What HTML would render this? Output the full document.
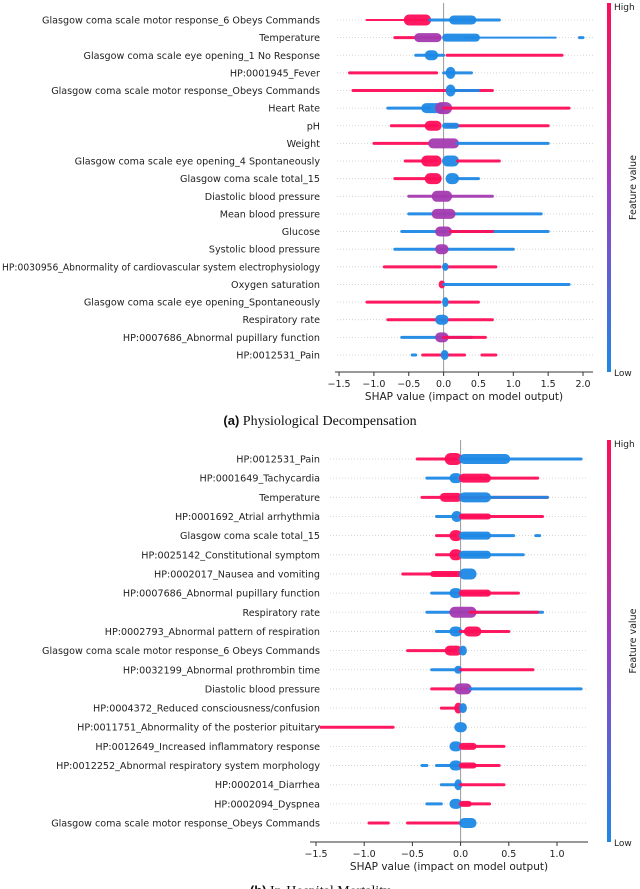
<!DOCTYPE html>
<html><head><meta charset="utf-8">
<style>
body{margin:0;background:#fff;}
svg{display:block;font-family:"DejaVu Sans","Liberation Sans",sans-serif;}
</style></head>
<body>
<svg id="c" width="640" height="889"></svg>
<script>
// ---- Data: chart A (Physiological Decompensation) ----
const featuresA = ["Glasgow coma scale motor response_6 Obeys Commands","Temperature","Glasgow coma scale eye opening_1 No Response","HP:0001945_Fever","Glasgow coma scale motor response_Obeys Commands","Heart Rate","pH","Weight","Glasgow coma scale eye opening_4 Spontaneously","Glasgow coma scale total_15","Diastolic blood pressure","Mean blood pressure","Glucose","Systolic blood pressure","HP:0030956_Abnormality of cardiovascular system electrophysiology","Oxygen saturation","Glasgow coma scale eye opening_Spontaneously","Respiratory rate","HP:0007686_Abnormal pupillary function","HP:0012531_Pain"];
// segments per feature: [shapStart, shapEnd, density, colorCode]
const shapA = [
 [[-1.1,-0.2,2,"r"],[-0.55,-0.2,11,"r"],[-0.2,0.8,3,"b"],[0.1,0.45,9,"b"]],
 [[-0.7,-0.05,3,"r"],[-0.4,-0.05,9,"p"],[0,0.5,8,"b"],[0.3,1.6,2,"b"],[1.95,2.0,3,"b"]],
 [[-0.4,0,3,"b"],[-0.25,-0.1,10,"b"],[0.05,1.7,3,"r"]],
 [[-1.35,-0.1,3,"r"],[0,0.4,3,"b"],[0.05,0.15,12,"b"]],
 [[-1.3,0.7,3,"r"],[0.1,0.5,3,"b"],[0.05,0.15,12,"b"]],
 [[-0.8,-0.2,3,"b"],[-0.3,0,10,"b"],[-0.1,0.1,12,"p"],[0,1.8,3,"r"]],
 [[-0.75,-0.1,3,"r"],[-0.25,-0.05,10,"r"],[0.05,1.5,3,"r"],[0,0.2,6,"b"]],
 [[-1.0,-0.2,3,"r"],[-0.2,0.2,10,"p"],[0.2,1.5,3,"b"]],
 [[-0.55,-0.1,3,"r"],[-0.3,-0.05,11,"r"],[0,0.2,11,"b"],[0.2,0.8,3,"r"]],
 [[-0.7,-0.05,3,"r"],[-0.25,-0.05,11,"r"],[0.05,0.2,11,"b"],[0.2,0.5,3,"b"]],
 [[-0.5,0.7,3,"p"],[-0.15,0.1,11,"p"]],
 [[-0.5,1.4,3,"b"],[-0.15,0.15,10,"p"]],
 [[-0.6,1.5,3,"b"],[-0.1,0.1,10,"p"],[0.1,0.7,3,"r"]],
 [[-0.7,1.0,3,"b"],[-0.1,0.05,10,"p"]],
 [[-0.85,-0.05,3,"r"],[0,0.75,3,"r"],[0,0.05,8,"b"]],
 [[-0.05,0,8,"r"],[0,1.8,3,"b"]],
 [[-1.1,-0.05,3,"r"],[0.05,0.5,3,"r"],[0,0.05,10,"b"]],
 [[-0.8,0.7,3,"r"],[-0.1,0.05,10,"b"]],
 [[-0.6,0.4,3,"b"],[-0.1,0.05,10,"p"],[0,0.6,3,"r"]],
 [[-0.45,-0.4,3,"b"],[-0.3,0.3,3,"r"],[-0.02,0.05,10,"b"],[0.55,0.75,3,"r"]]
];
const ticksA = [-1.5,-1.0,-0.5,0.0,0.5,1.0,1.5,2.0];
// ---- Data: chart B (In-Hospital Mortality) ----
const featuresB = ["HP:0012531_Pain","HP:0001649_Tachycardia","Temperature","HP:0001692_Atrial arrhythmia","Glasgow coma scale total_15","HP:0025142_Constitutional symptom","HP:0002017_Nausea and vomiting","HP:0007686_Abnormal pupillary function","Respiratory rate","HP:0002793_Abnormal pattern of respiration","Glasgow coma scale motor response_6 Obeys Commands","HP:0032199_Abnormal prothrombin time","Diastolic blood pressure","HP:0004372_Reduced consciousness/confusion","HP:0011751_Abnormality of the posterior pituitary","HP:0012649_Increased inflammatory response","HP:0012252_Abnormal respiratory system morphology","HP:0002014_Diarrhea","HP:0002094_Dyspnea","Glasgow coma scale motor response_Obeys Commands"];
const shapB = [
 [[-0.45,-0.05,3,"r"],[-0.15,0,12,"r"],[0,1.25,3,"b"],[0,0.5,10,"b"]],
 [[-0.35,-0.05,3,"b"],[-0.1,0,10,"b"],[0,0.8,3,"r"],[0,0.3,9,"r"]],
 [[-0.4,0.9,3,"r"],[-0.2,0,9,"r"],[0,0.3,10,"b"],[0.3,0.9,3,"b"]],
 [[-0.25,-0.05,3,"b"],[-0.08,0,11,"b"],[0,0.85,3,"r"],[0,0.3,6,"r"]],
 [[-0.25,-0.05,3,"r"],[-0.1,0,11,"r"],[0,0.55,3,"b"],[0,0.3,8,"b"],[0.78,0.82,3,"b"]],
 [[-0.25,0,3,"r"],[-0.1,0,11,"r"],[0,0.65,3,"b"],[0,0.3,8,"b"]],
 [[-0.6,-0.05,3,"r"],[-0.3,0,6,"r"],[0,0.15,11,"b"]],
 [[-0.3,0,3,"b"],[-0.1,0,10,"b"],[0,0.6,3,"r"],[0,0.3,7,"r"]],
 [[-0.35,0.85,3,"b"],[-0.1,0.15,11,"p"],[0.1,0.8,3,"r"]],
 [[-0.25,0,3,"b"],[-0.1,0,10,"b"],[0,0.5,3,"r"],[0.05,0.2,10,"r"]],
 [[-0.55,-0.05,3,"r"],[-0.15,0,10,"r"],[0,0.05,10,"b"]],
 [[-0.3,0,3,"b"],[-0.05,0,8,"b"],[0,0.75,3,"r"]],
 [[-0.3,0.1,3,"r"],[-0.05,0.1,11,"p"],[0.1,1.25,3,"b"]],
 [[-0.2,0,3,"r"],[-0.05,0,11,"r"],[0,0.05,10,"b"]],
 [[-1.45,-0.7,3,"r"],[-0.05,0.05,10,"b"]],
 [[-0.1,0,10,"b"],[0,0.45,3,"r"],[0,0.15,7,"r"]],
 [[-0.4,-0.35,3,"b"],[-0.25,0,3,"b"],[-0.1,0,10,"b"],[0,0.4,3,"r"],[0,0.15,6,"r"]],
 [[-0.2,0,3,"b"],[-0.05,0,11,"b"],[0,0.45,3,"r"]],
 [[-0.35,-0.2,3,"b"],[-0.1,0,10,"b"],[0,0.3,3,"r"],[0,0.1,6,"r"]],
 [[-0.95,-0.75,3,"r"],[-0.55,0,3,"r"],[0,0.15,10,"b"]]
];
const ticksB = [-1.5,-1.0,-0.5,0.0,0.5,1.0];

const NS="http://www.w3.org/2000/svg";
const svg=document.getElementById('c');
const COL={r:"#ff0d57",b:"#1e88e5",p:"#a43ab0"};
function mk(tag,attrs,parent,text){const e=document.createElementNS(NS,tag);for(const k in attrs)e.setAttribute(k,attrs[k]);if(text!==undefined)e.textContent=text;(parent||svg).appendChild(e);return e;}
function fmt(v){return (v<0?"\u2212":"")+Math.abs(v).toFixed(1);}

const defs=mk('defs',{});
const lg=mk('linearGradient',{id:"grad",x1:0,y1:0,x2:0,y2:1},defs);
mk('stop',{offset:"0","stop-color":"#ff0d57"},lg);
mk('stop',{offset:"0.5","stop-color":"#9a3dc0"},lg);
mk('stop',{offset:"1","stop-color":"#1e88e5"},lg);

function chart(cfg){
  const g=mk('g',{});
  
  
  const xs=v=>cfg.x0+v*cfg.k;
  const ys=i=>cfg.y0+i*cfg.dy;
  cfg.features.forEach((f,i)=>{
    const ln=mk('line',{x1:cfg.gx0,x2:cfg.ax1,y1:ys(i),y2:ys(i),stroke:"#ccc","stroke-width":0.8,"stroke-dasharray":"1 2"},g);
    
    
    const t=mk('text',{x:cfg.lx,y:ys(i)+3.5,"text-anchor":"end","font-size":9.6,fill:"#222"},g,f);
    
    
    try{ if(t.getComputedTextLength()>318){t.setAttribute('textLength','318');t.setAttribute('lengthAdjust','spacingAndGlyphs');} }catch(e){}
  });
  const z=mk('line',{x1:xs(0),x2:xs(0),y1:cfg.top,y2:cfg.axY,stroke:"#999","stroke-width":1},g);
  
  
  cfg.shap.forEach((segs,i)=>{
    segs.forEach(s=>{
      const a=xs(s[0]),b=xs(s[1]),h=s[2];
      const r=mk('rect',{x:Math.min(a,b)-1.5,y:ys(i)-h/2,width:Math.abs(b-a)+3,height:h,rx:h/2,fill:COL[s[3]],opacity:0.95},g);
      
      
    });
  });
  const ax=mk('line',{x1:cfg.ax0,x2:cfg.ax1,y1:cfg.axY,y2:cfg.axY,stroke:"#333","stroke-width":1},g);
  
  
  cfg.ticks.forEach(v=>{
    mk('line',{x1:xs(v),x2:xs(v),y1:cfg.axY,y2:cfg.axY+4,stroke:"#333"},g);
    const t=mk('text',{x:xs(v),y:cfg.axY+15,"text-anchor":"middle","font-size":9.5,fill:"#222"},g,fmt(v));
    
    
  });
  const xt=mk('text',{x:(cfg.ax0+cfg.ax1)/2,y:cfg.axY+28,"text-anchor":"middle","font-size":10.5,fill:"#222"},g,"SHAP value (impact on model output)");
  
  
  const cb=mk('rect',{x:607,y:cfg.cbTop,width:4,height:cfg.axY-cfg.cbTop,fill:"url(#grad)"},g);
  
  
  const hi=mk('text',{x:614,y:cfg.cbTop+7,"font-size":9,fill:"#222"},g,"High");
  
  
  const lo=mk('text',{x:614,y:cfg.axY+4,"font-size":9,fill:"#222"},g,"Low");
  
  
  const cy=(cfg.cbTop+cfg.axY)/2;
  const fv=mk('text',{x:636,y:cy,"font-size":9.5,fill:"#222","text-anchor":"middle",transform:`rotate(-90 636 ${cy})`},g,"Feature value");
  
  
}

chart({name:"chart-physiological-decompensation",features:featuresA,shap:shapA,ticks:ticksA,x0:443.6,k:69.7,y0:20,dy:17.63,ax0:335,gx0:337,ax1:593,axY:372,top:3,lx:320,cbTop:3});
chart({name:"chart-in-hospital-mortality",features:featuresB,shap:shapB,ticks:ticksB,x0:460.6,k:96.4,y0:459,dy:19.16,ax0:310,gx0:330,ax1:588,axY:842,top:440,lx:320,cbTop:440});

const c1=mk('text',{x:320,y:425,"text-anchor":"middle","font-size":14,"font-family":"Liberation Serif, serif",fill:"#111"});


mk('tspan',{"font-weight":"bold","font-family":"Liberation Sans, sans-serif","font-size":13},c1,"(a)");
mk('tspan',{},c1," Physiological Decompensation");
const c2=mk('text',{x:320,y:895,"text-anchor":"middle","font-size":14,"font-family":"Liberation Serif, serif",fill:"#111"});


mk('tspan',{"font-weight":"bold","font-family":"Liberation Sans, sans-serif","font-size":13},c2,"(b)");
mk('tspan',{},c2," In-Hospital Mortality");
</script>
</body></html>
